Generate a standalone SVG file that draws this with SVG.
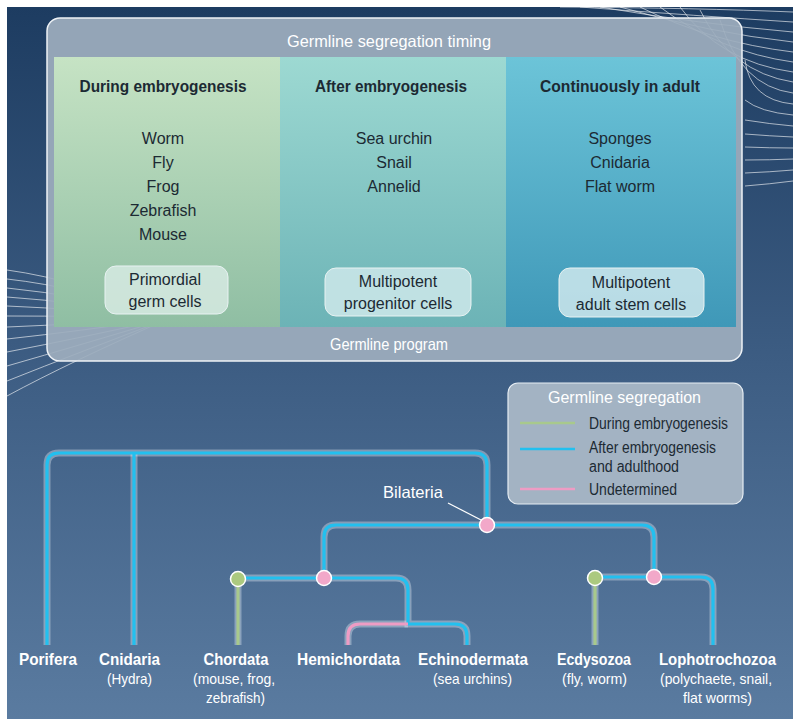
<svg xmlns="http://www.w3.org/2000/svg" width="800" height="726" viewBox="0 0 800 726">
<defs>
<linearGradient id="bg" x1="0" y1="0" x2="0" y2="1">
<stop offset="0" stop-color="#1d3c61"/>
<stop offset="0.5" stop-color="#3d5d83"/>
<stop offset="1" stop-color="#5a7ba0"/>
</linearGradient>
<linearGradient id="c1" x1="0" y1="0" x2="0" y2="1">
<stop offset="0" stop-color="#c6e3c4"/>
<stop offset="1" stop-color="#8fbea3"/>
</linearGradient>
<linearGradient id="c2" x1="0" y1="0" x2="0" y2="1">
<stop offset="0" stop-color="#9dd9d2"/>
<stop offset="1" stop-color="#6cb3b6"/>
</linearGradient>
<linearGradient id="c3" x1="0" y1="0" x2="0" y2="1">
<stop offset="0" stop-color="#6cc4d8"/>
<stop offset="1" stop-color="#3f98b8"/>
</linearGradient>
<style>
text{font-family:"Liberation Sans",Arial,sans-serif;}
.hd{font-size:16.5px;font-weight:bold;fill:#1c2a33;text-anchor:middle;}
.it{font-size:16px;fill:#1c2a33;text-anchor:middle;}
.wt{font-size:16.5px;fill:#ffffff;text-anchor:middle;}
.box{stroke:#e8f2f2;stroke-width:1;}
.lg{font-size:16px;fill:#1c2a33;}
.lb{font-size:16.5px;font-weight:bold;fill:#ffffff;text-anchor:middle;}
.sb{font-size:14.5px;fill:#ffffff;text-anchor:middle;}
.halo{fill:none;stroke:#dfe9f2;stroke-opacity:0.4;stroke-width:7;stroke-linecap:butt;}
.blue{fill:none;stroke:#22c0ef;stroke-width:3.2;}
.green{fill:none;stroke:#a8c98c;stroke-width:3.2;}
.pink{fill:none;stroke:#ee9cc4;stroke-width:3.2;}
.deco{fill:none;stroke:#ffffff;stroke-opacity:0.6;stroke-width:1;}
.ng{fill:#abc97f;stroke:#ffffff;stroke-width:1.5;}
.np{fill:#f2a8c9;stroke:#ffffff;stroke-width:1.5;}
</style>
</defs>
<rect x="0" y="0" width="800" height="726" fill="#ffffff"/>
<rect x="7" y="7" width="786" height="712" fill="url(#bg)"/>

<g id="decoration">
<path class="deco" d="M7,270 Q80,280 170,318"/>
<path class="deco" d="M7,279 Q80,287 170,318"/>
<path class="deco" d="M7,288 Q80,295 170,318"/>
<path class="deco" d="M7,297 Q80,302 170,318"/>
<path class="deco" d="M7,306 Q80,309 170,318"/>
<path class="deco" d="M7,316 Q80,316 170,318"/>
<path class="deco" d="M7,327 Q80,324 170,318"/>
<path class="deco" d="M7,339 Q80,331 170,318"/>
<path class="deco" d="M7,352 Q80,338 170,318"/>
<path class="deco" d="M7,366 Q80,345 170,318"/>
<path class="deco" d="M7,381 Q80,352 170,318"/>
<path class="deco" d="M7,396 Q70,362 170,318"/>
<path class="deco" d="M793,12 Q700,8 560,7"/>
<path class="deco" d="M793,22 Q700,16 580,7"/>
<path class="deco" d="M793,32 Q700,24 600,7"/>
<path class="deco" d="M793,42 Q710,33 620,7"/>
<path class="deco" d="M793,52 Q710,42 640,7"/>
<path class="deco" d="M793,62 Q720,52 660,7"/>
<path class="deco" d="M793,72 Q720,62 680,7"/>
<path class="deco" d="M793,82 Q730,72 700,10"/>
<path class="deco" d="M793,93 Q740,86 720,20"/>
<path class="deco" d="M793,104 Q750,100 745,60"/>
<path class="deco" d="M793,115 Q760,112 745,100"/>
<path class="deco" d="M793,126 Q770,124 745,120"/>
<path class="deco" d="M793,137 Q770,136 745,134"/>
<path class="deco" d="M793,148 Q770,148 745,147"/>
<path class="deco" d="M793,159 Q770,160 745,160"/>
<path class="deco" d="M793,170 Q770,172 745,173"/>
<path class="deco" d="M793,181 Q770,184 745,186"/>
</g>

<g id="timing-panel">
<rect x="47" y="18" width="695" height="343" rx="13" fill="#9dadbd" fill-opacity="0.93" stroke="#eef2f6" stroke-width="1.5"/>
<text class="wt" x="389" y="47" textLength="204" lengthAdjust="spacingAndGlyphs">Germline segregation timing</text>
<text class="wt" x="389" y="350" textLength="118" lengthAdjust="spacingAndGlyphs">Germline program</text>
</g>

<g id="col-during">
<rect x="54" y="57" width="226" height="270" fill="url(#c1)"/>
<text class="hd" x="163" y="92" textLength="167" lengthAdjust="spacingAndGlyphs">During embryogenesis</text>
<text class="it" x="163" y="144">Worm</text>
<text class="it" x="163" y="168">Fly</text>
<text class="it" x="163" y="192">Frog</text>
<text class="it" x="163" y="216">Zebrafish</text>
<text class="it" x="163" y="240">Mouse</text>
<rect class="box" x="105" y="266" width="123" height="48" rx="11" fill="#d3e8df" fill-opacity="0.9"/>
<text class="it" x="165" y="285">Primordial</text>
<text class="it" x="165" y="307">germ cells</text>
</g>

<g id="col-after">
<rect x="280" y="57" width="226" height="270" fill="url(#c2)"/>
<text class="hd" x="391" y="92" textLength="152" lengthAdjust="spacingAndGlyphs">After embryogenesis</text>
<text class="it" x="394" y="144">Sea urchin</text>
<text class="it" x="394" y="168">Snail</text>
<text class="it" x="394" y="192">Annelid</text>
<rect class="box" x="325" y="268" width="146" height="48" rx="11" fill="#c9e6e8" fill-opacity="0.9"/>
<text class="it" x="398" y="287">Multipotent</text>
<text class="it" x="398" y="309">progenitor cells</text>
</g>

<g id="col-adult">
<rect x="506" y="57" width="230" height="270" fill="url(#c3)"/>
<text class="hd" x="620" y="92" textLength="160" lengthAdjust="spacingAndGlyphs">Continuously in adult</text>
<text class="it" x="620" y="144">Sponges</text>
<text class="it" x="620" y="168">Cnidaria</text>
<text class="it" x="620" y="192">Flat worm</text>
<rect class="box" x="559" y="268" width="145" height="49" rx="11" fill="#c6e3ea" fill-opacity="0.9"/>
<text class="it" x="631" y="288">Multipotent</text>
<text class="it" x="631" y="310">adult stem cells</text>
</g>

<g id="legend">
<rect x="508" y="383" width="235" height="121" rx="10" fill="#a9b7c6" fill-opacity="0.95" stroke="#e6edf3" stroke-width="1.2"/>
<text class="wt" x="624.5" y="403" textLength="153" lengthAdjust="spacingAndGlyphs">Germline segregation</text>
<line x1="520" y1="423" x2="575" y2="423" stroke="#a8c98c" stroke-width="2.5"/>
<line x1="520" y1="449" x2="575" y2="449" stroke="#22c0ef" stroke-width="2.5"/>
<line x1="520" y1="489" x2="575" y2="489" stroke="#ee9cc4" stroke-width="2.5"/>
<text class="lg" x="589" y="429" textLength="139" lengthAdjust="spacingAndGlyphs">During embryogenesis</text>
<text class="lg" x="589" y="453" textLength="127" lengthAdjust="spacingAndGlyphs">After embryogenesis</text>
<text class="lg" x="589" y="472" textLength="90" lengthAdjust="spacingAndGlyphs">and adulthood</text>
<text class="lg" x="589" y="495" textLength="88" lengthAdjust="spacingAndGlyphs">Undetermined</text>
</g>

<g id="connectors">
<path class="halo" d="M47,645 V465 Q47,453 59,453 H475 Q487,453 487,465 V525"/>
<path class="halo" d="M134,453 V645"/>
<path class="halo" d="M324,578 V537 Q324,525 336,525 H642 Q654,525 654,537 V577"/>
<path class="halo" d="M238,578 H396 Q408,578 408,590 V624 H455 Q467,624 467,636 V645"/>
<path class="halo" d="M408,624 H360 Q348,624 348,636 V645"/>
<path class="halo" d="M238,578 V645"/>
<path class="halo" d="M595,577 H701 Q713,577 713,589 V645"/>
<path class="halo" d="M595,577 V645"/>
<path class="blue" d="M47,645 V465 Q47,453 59,453 H475 Q487,453 487,465 V525"/>
<path class="blue" d="M134,453 V645"/>
<path class="blue" d="M324,578 V537 Q324,525 336,525 H642 Q654,525 654,537 V577"/>
<path class="blue" d="M238,578 H396 Q408,578 408,590 V624 H455 Q467,624 467,636 V645"/>
<path class="pink" d="M408,624 H360 Q348,624 348,636 V645"/>
<path class="green" d="M238,578 V645"/>
<path class="blue" d="M595,577 H701 Q713,577 713,589 V645"/>
<path class="green" d="M595,577 V645"/>
<line x1="448" y1="503" x2="483" y2="521" stroke="#ffffff" stroke-width="1.2"/>
</g>

<g id="bilateria">
<circle class="np" cx="487" cy="525" r="7.5"/>
<text x="383" y="498" font-size="16.5" fill="#ffffff" textLength="60" lengthAdjust="spacingAndGlyphs">Bilateria</text>
</g>
<g id="node-deuterostomes"><circle class="np" cx="324" cy="578" r="7.5"/></g>
<g id="node-chordata"><circle class="ng" cx="238" cy="579" r="7.5"/></g>
<g id="node-protostomes"><circle class="np" cx="654" cy="577" r="7.5"/></g>
<g id="node-ecdysozoa"><circle class="ng" cx="595" cy="578" r="7.5"/></g>

<g id="porifera"><text class="lb" x="48" y="665" textLength="58" lengthAdjust="spacingAndGlyphs">Porifera</text></g>
<g id="cnidaria"><text class="lb" x="129.5" y="665" textLength="61" lengthAdjust="spacingAndGlyphs">Cnidaria</text><text class="sb" x="129.5" y="684" textLength="45" lengthAdjust="spacingAndGlyphs">(Hydra)</text></g>
<g id="chordata"><text class="lb" x="236" y="665" textLength="65" lengthAdjust="spacingAndGlyphs">Chordata</text><text class="sb" x="234" y="684" textLength="82" lengthAdjust="spacingAndGlyphs">(mouse, frog,</text><text class="sb" x="235.5" y="703" textLength="59" lengthAdjust="spacingAndGlyphs">zebrafish)</text></g>
<g id="hemichordata"><text class="lb" x="348.5" y="665" textLength="103" lengthAdjust="spacingAndGlyphs">Hemichordata</text></g>
<g id="echinodermata"><text class="lb" x="473" y="665" textLength="110" lengthAdjust="spacingAndGlyphs">Echinodermata</text><text class="sb" x="472.5" y="684" textLength="79" lengthAdjust="spacingAndGlyphs">(sea urchins)</text></g>
<g id="ecdysozoa"><text class="lb" x="594" y="665" textLength="74" lengthAdjust="spacingAndGlyphs">Ecdysozoa</text><text class="sb" x="594.5" y="684" textLength="65" lengthAdjust="spacingAndGlyphs">(fly, worm)</text></g>
<g id="lophotrochozoa"><text class="lb" x="717.5" y="665" textLength="117" lengthAdjust="spacingAndGlyphs">Lophotrochozoa</text><text class="sb" x="716" y="684" textLength="112" lengthAdjust="spacingAndGlyphs">(polychaete, snail,</text><text class="sb" x="717.5" y="703" textLength="69" lengthAdjust="spacingAndGlyphs">flat worms)</text></g>
</svg>
